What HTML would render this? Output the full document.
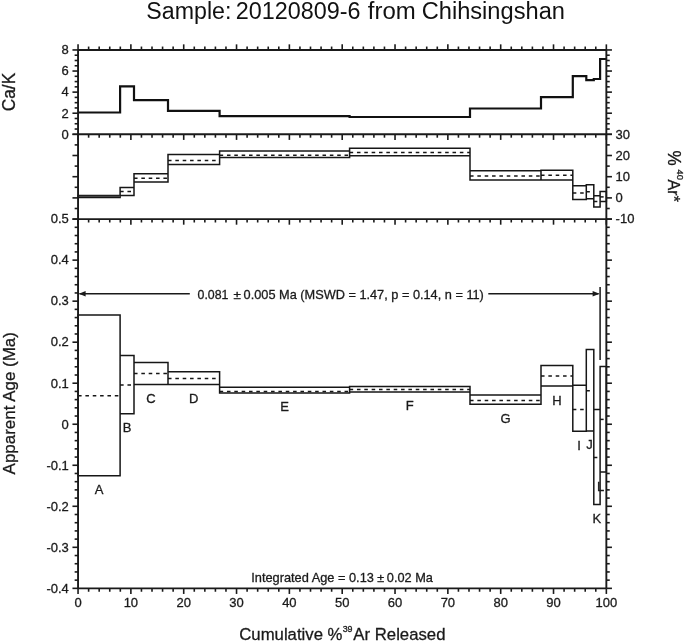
<!DOCTYPE html>
<html><head><meta charset="utf-8"><title>Age spectrum</title>
<style>
html,body{margin:0;padding:0;background:#fff;}
svg{display:block;}
</style></head>
<body>
<svg width="685" height="643" viewBox="0 0 685 643" font-family="Liberation Sans, Arial, Helvetica, sans-serif">
<style>text{stroke:#1a1a1a;stroke-width:0.3px;} .title text{stroke:none;}</style>
<rect width="685" height="643" fill="#fff"/>
<path d="M78.05,112.50 L120.10,112.50 L120.10,86.40 L134.00,86.40 L134.00,100.10 L168.00,100.10 L168.00,110.90 L219.60,110.90 L219.60,116.10 L349.60,116.10 L349.60,117.00 L470.00,117.00 L470.00,108.50 L541.00,108.50 L541.00,97.10 L572.80,97.10 L572.80,76.10 L586.30,76.10 L586.30,80.20 L593.80,80.20 L593.80,79.00 L600.10,79.00 L600.10,59.00 L606.35,59.00" fill="none" stroke="#111" stroke-width="2.2" stroke-linejoin="miter"/>
<path d="M78.05,195.40 H120.10 M78.05,197.50 H120.10 M120.10,187.40 H134.00 M120.10,195.40 H134.00 M134.00,173.70 H168.00 M134.00,182.10 H168.00 M168.00,154.60 H219.60 M168.00,164.50 H219.60 M219.60,151.10 H349.60 M219.60,157.50 H349.60 M349.60,148.20 H470.00 M349.60,155.80 H470.00 M470.00,170.80 H541.00 M470.00,179.90 H541.00 M541.00,170.20 H572.80 M541.00,179.90 H572.80 M572.80,185.80 H586.30 M572.80,199.60 H586.30 M586.30,184.80 H593.80 M586.30,198.80 H593.80 M593.80,195.70 H600.10 M593.80,207.10 H600.10 M600.10,191.40 H606.35 M600.10,201.50 H606.35 M78.05,195.40 V197.50 M120.10,187.40 V197.50 M134.00,173.70 V195.40 M168.00,154.60 V182.10 M219.60,151.10 V164.50 M349.60,148.20 V157.50 M470.00,148.20 V179.90 M541.00,170.20 V179.90 M572.80,170.20 V199.60 M586.30,184.80 V199.60 M593.80,184.80 V207.10 M600.10,191.40 V207.10 M606.35,191.40 V201.50" fill="none" stroke="#161616" stroke-width="1.5" stroke-linecap="square"/>
<line x1="78.05" y1="196.40" x2="120.10" y2="196.40" stroke="#444" stroke-width="1.2"/>
<line x1="120.10" y1="191.60" x2="134.00" y2="191.60" stroke="#161616" stroke-width="1.5" stroke-dasharray="3.55 3.8"/>
<line x1="134.00" y1="178.20" x2="168.00" y2="178.20" stroke="#161616" stroke-width="1.5" stroke-dasharray="3.55 3.8"/>
<line x1="168.00" y1="160.40" x2="219.60" y2="160.40" stroke="#161616" stroke-width="1.5" stroke-dasharray="3.55 3.8"/>
<line x1="219.60" y1="155.30" x2="349.60" y2="155.30" stroke="#161616" stroke-width="1.5" stroke-dasharray="3.55 3.8"/>
<line x1="349.60" y1="152.40" x2="470.00" y2="152.40" stroke="#161616" stroke-width="1.5" stroke-dasharray="3.55 3.8"/>
<line x1="470.00" y1="176.00" x2="541.00" y2="176.00" stroke="#161616" stroke-width="1.5" stroke-dasharray="3.55 3.8"/>
<line x1="541.00" y1="175.20" x2="572.80" y2="175.20" stroke="#161616" stroke-width="1.5" stroke-dasharray="3.55 3.8"/>
<line x1="572.80" y1="193.00" x2="586.30" y2="193.00" stroke="#161616" stroke-width="1.5" stroke-dasharray="3.55 3.8"/>
<line x1="586.30" y1="191.80" x2="593.80" y2="191.80" stroke="#161616" stroke-width="1.5" stroke-dasharray="3.55 3.8"/>
<line x1="593.80" y1="201.50" x2="600.10" y2="201.50" stroke="#161616" stroke-width="1.5" stroke-dasharray="3.55 3.8"/>
<line x1="600.10" y1="196.90" x2="606.35" y2="196.90" stroke="#161616" stroke-width="1.5" stroke-dasharray="3.55 3.8"/>
<path d="M78.05,315.00 H120.10 M78.05,475.70 H120.10 M120.10,355.60 H134.00 M120.10,413.70 H134.00 M134.00,362.40 H168.00 M134.00,384.40 H168.00 M168.00,371.70 H219.60 M168.00,384.50 H219.60 M219.60,387.20 H349.60 M219.60,392.90 H349.60 M349.60,386.50 H470.00 M349.60,391.90 H470.00 M470.00,395.00 H541.00 M470.00,404.20 H541.00 M541.00,365.50 H572.80 M541.00,386.00 H572.80 M572.80,385.20 H586.30 M572.80,431.30 H586.30 M586.30,349.40 H593.80 M586.30,430.90 H593.80 M593.80,409.60 H600.10 M593.80,504.40 H600.10 M600.10,366.40 H606.35 M600.10,472.10 H606.35 M78.05,315.00 V475.70 M120.10,315.00 V475.70 M134.00,355.60 V413.70 M168.00,362.40 V384.50 M219.60,371.70 V392.90 M349.60,386.50 V392.90 M470.00,386.50 V404.20 M541.00,365.50 V404.20 M572.80,365.50 V431.30 M586.30,349.40 V431.30 M593.80,349.40 V504.40 M600.10,366.40 V504.40 M606.35,366.40 V472.10" fill="none" stroke="#161616" stroke-width="1.5" stroke-linecap="square"/>
<line x1="78.05" y1="395.70" x2="120.10" y2="395.70" stroke="#161616" stroke-width="1.5" stroke-dasharray="3.55 3.8"/>
<line x1="120.10" y1="384.90" x2="134.00" y2="384.90" stroke="#161616" stroke-width="1.5" stroke-dasharray="3.55 3.8"/>
<line x1="134.00" y1="373.50" x2="168.00" y2="373.50" stroke="#161616" stroke-width="1.5" stroke-dasharray="3.55 3.8"/>
<line x1="168.00" y1="378.50" x2="219.60" y2="378.50" stroke="#161616" stroke-width="1.5" stroke-dasharray="3.55 3.8"/>
<line x1="219.60" y1="391.60" x2="349.60" y2="391.60" stroke="#161616" stroke-width="1.5" stroke-dasharray="3.55 3.8"/>
<line x1="349.60" y1="389.40" x2="470.00" y2="389.40" stroke="#161616" stroke-width="1.5" stroke-dasharray="3.55 3.8"/>
<line x1="470.00" y1="400.40" x2="541.00" y2="400.40" stroke="#161616" stroke-width="1.5" stroke-dasharray="3.55 3.8"/>
<line x1="541.00" y1="375.90" x2="572.80" y2="375.90" stroke="#161616" stroke-width="1.5" stroke-dasharray="3.55 3.8"/>
<line x1="572.80" y1="409.40" x2="586.30" y2="409.40" stroke="#161616" stroke-width="1.5" stroke-dasharray="3.55 3.8"/>
<line x1="586.30" y1="390.70" x2="593.80" y2="390.70" stroke="#161616" stroke-width="1.5" stroke-dasharray="3.55 3.8"/>
<line x1="593.80" y1="457.50" x2="600.10" y2="457.50" stroke="#161616" stroke-width="1.5" stroke-dasharray="3.55 3.8"/>
<line x1="600.10" y1="419.40" x2="606.35" y2="419.40" stroke="#161616" stroke-width="1.5" stroke-dasharray="3.55 3.8"/>
<line x1="600.10" y1="287.10" x2="600.10" y2="359.90" stroke="#161616" stroke-width="1.5" />
<line x1="79.50" y1="293.80" x2="189.80" y2="293.80" stroke="#1a1a1a" stroke-width="1.4" />
<line x1="488.30" y1="293.80" x2="598.50" y2="293.80" stroke="#1a1a1a" stroke-width="1.4" />
<path d="M78.9,293.8 L85.6,291.0 L85.6,296.6 Z" fill="#1a1a1a"/>
<path d="M599.6,293.8 L592.6,291.0 L592.6,296.6 Z" fill="#1a1a1a"/>
<line x1="78.05" y1="49.95" x2="78.05" y2="44.35" stroke="#1a1a1a" stroke-width="1.6" />
<line x1="78.05" y1="134.30" x2="78.05" y2="139.90" stroke="#1a1a1a" stroke-width="1.6" />
<line x1="78.05" y1="219.10" x2="78.05" y2="224.70" stroke="#1a1a1a" stroke-width="1.6" />
<line x1="78.05" y1="588.35" x2="78.05" y2="593.95" stroke="#1a1a1a" stroke-width="1.6" />
<line x1="88.62" y1="49.95" x2="88.62" y2="46.55" stroke="#1a1a1a" stroke-width="1.6" />
<line x1="88.62" y1="134.30" x2="88.62" y2="137.70" stroke="#1a1a1a" stroke-width="1.6" />
<line x1="88.62" y1="219.10" x2="88.62" y2="222.50" stroke="#1a1a1a" stroke-width="1.6" />
<line x1="88.62" y1="588.35" x2="88.62" y2="591.75" stroke="#1a1a1a" stroke-width="1.6" />
<line x1="99.18" y1="49.95" x2="99.18" y2="46.55" stroke="#1a1a1a" stroke-width="1.6" />
<line x1="99.18" y1="134.30" x2="99.18" y2="137.70" stroke="#1a1a1a" stroke-width="1.6" />
<line x1="99.18" y1="219.10" x2="99.18" y2="222.50" stroke="#1a1a1a" stroke-width="1.6" />
<line x1="99.18" y1="588.35" x2="99.18" y2="591.75" stroke="#1a1a1a" stroke-width="1.6" />
<line x1="109.75" y1="49.95" x2="109.75" y2="46.55" stroke="#1a1a1a" stroke-width="1.6" />
<line x1="109.75" y1="134.30" x2="109.75" y2="137.70" stroke="#1a1a1a" stroke-width="1.6" />
<line x1="109.75" y1="219.10" x2="109.75" y2="222.50" stroke="#1a1a1a" stroke-width="1.6" />
<line x1="109.75" y1="588.35" x2="109.75" y2="591.75" stroke="#1a1a1a" stroke-width="1.6" />
<line x1="120.31" y1="49.95" x2="120.31" y2="46.55" stroke="#1a1a1a" stroke-width="1.6" />
<line x1="120.31" y1="134.30" x2="120.31" y2="137.70" stroke="#1a1a1a" stroke-width="1.6" />
<line x1="120.31" y1="219.10" x2="120.31" y2="222.50" stroke="#1a1a1a" stroke-width="1.6" />
<line x1="120.31" y1="588.35" x2="120.31" y2="591.75" stroke="#1a1a1a" stroke-width="1.6" />
<line x1="130.88" y1="49.95" x2="130.88" y2="44.35" stroke="#1a1a1a" stroke-width="1.6" />
<line x1="130.88" y1="134.30" x2="130.88" y2="139.90" stroke="#1a1a1a" stroke-width="1.6" />
<line x1="130.88" y1="219.10" x2="130.88" y2="224.70" stroke="#1a1a1a" stroke-width="1.6" />
<line x1="130.88" y1="588.35" x2="130.88" y2="593.95" stroke="#1a1a1a" stroke-width="1.6" />
<line x1="141.45" y1="49.95" x2="141.45" y2="46.55" stroke="#1a1a1a" stroke-width="1.6" />
<line x1="141.45" y1="134.30" x2="141.45" y2="137.70" stroke="#1a1a1a" stroke-width="1.6" />
<line x1="141.45" y1="219.10" x2="141.45" y2="222.50" stroke="#1a1a1a" stroke-width="1.6" />
<line x1="141.45" y1="588.35" x2="141.45" y2="591.75" stroke="#1a1a1a" stroke-width="1.6" />
<line x1="152.01" y1="49.95" x2="152.01" y2="46.55" stroke="#1a1a1a" stroke-width="1.6" />
<line x1="152.01" y1="134.30" x2="152.01" y2="137.70" stroke="#1a1a1a" stroke-width="1.6" />
<line x1="152.01" y1="219.10" x2="152.01" y2="222.50" stroke="#1a1a1a" stroke-width="1.6" />
<line x1="152.01" y1="588.35" x2="152.01" y2="591.75" stroke="#1a1a1a" stroke-width="1.6" />
<line x1="162.58" y1="49.95" x2="162.58" y2="46.55" stroke="#1a1a1a" stroke-width="1.6" />
<line x1="162.58" y1="134.30" x2="162.58" y2="137.70" stroke="#1a1a1a" stroke-width="1.6" />
<line x1="162.58" y1="219.10" x2="162.58" y2="222.50" stroke="#1a1a1a" stroke-width="1.6" />
<line x1="162.58" y1="588.35" x2="162.58" y2="591.75" stroke="#1a1a1a" stroke-width="1.6" />
<line x1="173.14" y1="49.95" x2="173.14" y2="46.55" stroke="#1a1a1a" stroke-width="1.6" />
<line x1="173.14" y1="134.30" x2="173.14" y2="137.70" stroke="#1a1a1a" stroke-width="1.6" />
<line x1="173.14" y1="219.10" x2="173.14" y2="222.50" stroke="#1a1a1a" stroke-width="1.6" />
<line x1="173.14" y1="588.35" x2="173.14" y2="591.75" stroke="#1a1a1a" stroke-width="1.6" />
<line x1="183.71" y1="49.95" x2="183.71" y2="44.35" stroke="#1a1a1a" stroke-width="1.6" />
<line x1="183.71" y1="134.30" x2="183.71" y2="139.90" stroke="#1a1a1a" stroke-width="1.6" />
<line x1="183.71" y1="219.10" x2="183.71" y2="224.70" stroke="#1a1a1a" stroke-width="1.6" />
<line x1="183.71" y1="588.35" x2="183.71" y2="593.95" stroke="#1a1a1a" stroke-width="1.6" />
<line x1="194.28" y1="49.95" x2="194.28" y2="46.55" stroke="#1a1a1a" stroke-width="1.6" />
<line x1="194.28" y1="134.30" x2="194.28" y2="137.70" stroke="#1a1a1a" stroke-width="1.6" />
<line x1="194.28" y1="219.10" x2="194.28" y2="222.50" stroke="#1a1a1a" stroke-width="1.6" />
<line x1="194.28" y1="588.35" x2="194.28" y2="591.75" stroke="#1a1a1a" stroke-width="1.6" />
<line x1="204.84" y1="49.95" x2="204.84" y2="46.55" stroke="#1a1a1a" stroke-width="1.6" />
<line x1="204.84" y1="134.30" x2="204.84" y2="137.70" stroke="#1a1a1a" stroke-width="1.6" />
<line x1="204.84" y1="219.10" x2="204.84" y2="222.50" stroke="#1a1a1a" stroke-width="1.6" />
<line x1="204.84" y1="588.35" x2="204.84" y2="591.75" stroke="#1a1a1a" stroke-width="1.6" />
<line x1="215.41" y1="49.95" x2="215.41" y2="46.55" stroke="#1a1a1a" stroke-width="1.6" />
<line x1="215.41" y1="134.30" x2="215.41" y2="137.70" stroke="#1a1a1a" stroke-width="1.6" />
<line x1="215.41" y1="219.10" x2="215.41" y2="222.50" stroke="#1a1a1a" stroke-width="1.6" />
<line x1="215.41" y1="588.35" x2="215.41" y2="591.75" stroke="#1a1a1a" stroke-width="1.6" />
<line x1="225.97" y1="49.95" x2="225.97" y2="46.55" stroke="#1a1a1a" stroke-width="1.6" />
<line x1="225.97" y1="134.30" x2="225.97" y2="137.70" stroke="#1a1a1a" stroke-width="1.6" />
<line x1="225.97" y1="219.10" x2="225.97" y2="222.50" stroke="#1a1a1a" stroke-width="1.6" />
<line x1="225.97" y1="588.35" x2="225.97" y2="591.75" stroke="#1a1a1a" stroke-width="1.6" />
<line x1="236.54" y1="49.95" x2="236.54" y2="44.35" stroke="#1a1a1a" stroke-width="1.6" />
<line x1="236.54" y1="134.30" x2="236.54" y2="139.90" stroke="#1a1a1a" stroke-width="1.6" />
<line x1="236.54" y1="219.10" x2="236.54" y2="224.70" stroke="#1a1a1a" stroke-width="1.6" />
<line x1="236.54" y1="588.35" x2="236.54" y2="593.95" stroke="#1a1a1a" stroke-width="1.6" />
<line x1="247.11" y1="49.95" x2="247.11" y2="46.55" stroke="#1a1a1a" stroke-width="1.6" />
<line x1="247.11" y1="134.30" x2="247.11" y2="137.70" stroke="#1a1a1a" stroke-width="1.6" />
<line x1="247.11" y1="219.10" x2="247.11" y2="222.50" stroke="#1a1a1a" stroke-width="1.6" />
<line x1="247.11" y1="588.35" x2="247.11" y2="591.75" stroke="#1a1a1a" stroke-width="1.6" />
<line x1="257.67" y1="49.95" x2="257.67" y2="46.55" stroke="#1a1a1a" stroke-width="1.6" />
<line x1="257.67" y1="134.30" x2="257.67" y2="137.70" stroke="#1a1a1a" stroke-width="1.6" />
<line x1="257.67" y1="219.10" x2="257.67" y2="222.50" stroke="#1a1a1a" stroke-width="1.6" />
<line x1="257.67" y1="588.35" x2="257.67" y2="591.75" stroke="#1a1a1a" stroke-width="1.6" />
<line x1="268.24" y1="49.95" x2="268.24" y2="46.55" stroke="#1a1a1a" stroke-width="1.6" />
<line x1="268.24" y1="134.30" x2="268.24" y2="137.70" stroke="#1a1a1a" stroke-width="1.6" />
<line x1="268.24" y1="219.10" x2="268.24" y2="222.50" stroke="#1a1a1a" stroke-width="1.6" />
<line x1="268.24" y1="588.35" x2="268.24" y2="591.75" stroke="#1a1a1a" stroke-width="1.6" />
<line x1="278.80" y1="49.95" x2="278.80" y2="46.55" stroke="#1a1a1a" stroke-width="1.6" />
<line x1="278.80" y1="134.30" x2="278.80" y2="137.70" stroke="#1a1a1a" stroke-width="1.6" />
<line x1="278.80" y1="219.10" x2="278.80" y2="222.50" stroke="#1a1a1a" stroke-width="1.6" />
<line x1="278.80" y1="588.35" x2="278.80" y2="591.75" stroke="#1a1a1a" stroke-width="1.6" />
<line x1="289.37" y1="49.95" x2="289.37" y2="44.35" stroke="#1a1a1a" stroke-width="1.6" />
<line x1="289.37" y1="134.30" x2="289.37" y2="139.90" stroke="#1a1a1a" stroke-width="1.6" />
<line x1="289.37" y1="219.10" x2="289.37" y2="224.70" stroke="#1a1a1a" stroke-width="1.6" />
<line x1="289.37" y1="588.35" x2="289.37" y2="593.95" stroke="#1a1a1a" stroke-width="1.6" />
<line x1="299.94" y1="49.95" x2="299.94" y2="46.55" stroke="#1a1a1a" stroke-width="1.6" />
<line x1="299.94" y1="134.30" x2="299.94" y2="137.70" stroke="#1a1a1a" stroke-width="1.6" />
<line x1="299.94" y1="219.10" x2="299.94" y2="222.50" stroke="#1a1a1a" stroke-width="1.6" />
<line x1="299.94" y1="588.35" x2="299.94" y2="591.75" stroke="#1a1a1a" stroke-width="1.6" />
<line x1="310.50" y1="49.95" x2="310.50" y2="46.55" stroke="#1a1a1a" stroke-width="1.6" />
<line x1="310.50" y1="134.30" x2="310.50" y2="137.70" stroke="#1a1a1a" stroke-width="1.6" />
<line x1="310.50" y1="219.10" x2="310.50" y2="222.50" stroke="#1a1a1a" stroke-width="1.6" />
<line x1="310.50" y1="588.35" x2="310.50" y2="591.75" stroke="#1a1a1a" stroke-width="1.6" />
<line x1="321.07" y1="49.95" x2="321.07" y2="46.55" stroke="#1a1a1a" stroke-width="1.6" />
<line x1="321.07" y1="134.30" x2="321.07" y2="137.70" stroke="#1a1a1a" stroke-width="1.6" />
<line x1="321.07" y1="219.10" x2="321.07" y2="222.50" stroke="#1a1a1a" stroke-width="1.6" />
<line x1="321.07" y1="588.35" x2="321.07" y2="591.75" stroke="#1a1a1a" stroke-width="1.6" />
<line x1="331.63" y1="49.95" x2="331.63" y2="46.55" stroke="#1a1a1a" stroke-width="1.6" />
<line x1="331.63" y1="134.30" x2="331.63" y2="137.70" stroke="#1a1a1a" stroke-width="1.6" />
<line x1="331.63" y1="219.10" x2="331.63" y2="222.50" stroke="#1a1a1a" stroke-width="1.6" />
<line x1="331.63" y1="588.35" x2="331.63" y2="591.75" stroke="#1a1a1a" stroke-width="1.6" />
<line x1="342.20" y1="49.95" x2="342.20" y2="44.35" stroke="#1a1a1a" stroke-width="1.6" />
<line x1="342.20" y1="134.30" x2="342.20" y2="139.90" stroke="#1a1a1a" stroke-width="1.6" />
<line x1="342.20" y1="219.10" x2="342.20" y2="224.70" stroke="#1a1a1a" stroke-width="1.6" />
<line x1="342.20" y1="588.35" x2="342.20" y2="593.95" stroke="#1a1a1a" stroke-width="1.6" />
<line x1="352.77" y1="49.95" x2="352.77" y2="46.55" stroke="#1a1a1a" stroke-width="1.6" />
<line x1="352.77" y1="134.30" x2="352.77" y2="137.70" stroke="#1a1a1a" stroke-width="1.6" />
<line x1="352.77" y1="219.10" x2="352.77" y2="222.50" stroke="#1a1a1a" stroke-width="1.6" />
<line x1="352.77" y1="588.35" x2="352.77" y2="591.75" stroke="#1a1a1a" stroke-width="1.6" />
<line x1="363.33" y1="49.95" x2="363.33" y2="46.55" stroke="#1a1a1a" stroke-width="1.6" />
<line x1="363.33" y1="134.30" x2="363.33" y2="137.70" stroke="#1a1a1a" stroke-width="1.6" />
<line x1="363.33" y1="219.10" x2="363.33" y2="222.50" stroke="#1a1a1a" stroke-width="1.6" />
<line x1="363.33" y1="588.35" x2="363.33" y2="591.75" stroke="#1a1a1a" stroke-width="1.6" />
<line x1="373.90" y1="49.95" x2="373.90" y2="46.55" stroke="#1a1a1a" stroke-width="1.6" />
<line x1="373.90" y1="134.30" x2="373.90" y2="137.70" stroke="#1a1a1a" stroke-width="1.6" />
<line x1="373.90" y1="219.10" x2="373.90" y2="222.50" stroke="#1a1a1a" stroke-width="1.6" />
<line x1="373.90" y1="588.35" x2="373.90" y2="591.75" stroke="#1a1a1a" stroke-width="1.6" />
<line x1="384.46" y1="49.95" x2="384.46" y2="46.55" stroke="#1a1a1a" stroke-width="1.6" />
<line x1="384.46" y1="134.30" x2="384.46" y2="137.70" stroke="#1a1a1a" stroke-width="1.6" />
<line x1="384.46" y1="219.10" x2="384.46" y2="222.50" stroke="#1a1a1a" stroke-width="1.6" />
<line x1="384.46" y1="588.35" x2="384.46" y2="591.75" stroke="#1a1a1a" stroke-width="1.6" />
<line x1="395.03" y1="49.95" x2="395.03" y2="44.35" stroke="#1a1a1a" stroke-width="1.6" />
<line x1="395.03" y1="134.30" x2="395.03" y2="139.90" stroke="#1a1a1a" stroke-width="1.6" />
<line x1="395.03" y1="219.10" x2="395.03" y2="224.70" stroke="#1a1a1a" stroke-width="1.6" />
<line x1="395.03" y1="588.35" x2="395.03" y2="593.95" stroke="#1a1a1a" stroke-width="1.6" />
<line x1="405.60" y1="49.95" x2="405.60" y2="46.55" stroke="#1a1a1a" stroke-width="1.6" />
<line x1="405.60" y1="134.30" x2="405.60" y2="137.70" stroke="#1a1a1a" stroke-width="1.6" />
<line x1="405.60" y1="219.10" x2="405.60" y2="222.50" stroke="#1a1a1a" stroke-width="1.6" />
<line x1="405.60" y1="588.35" x2="405.60" y2="591.75" stroke="#1a1a1a" stroke-width="1.6" />
<line x1="416.16" y1="49.95" x2="416.16" y2="46.55" stroke="#1a1a1a" stroke-width="1.6" />
<line x1="416.16" y1="134.30" x2="416.16" y2="137.70" stroke="#1a1a1a" stroke-width="1.6" />
<line x1="416.16" y1="219.10" x2="416.16" y2="222.50" stroke="#1a1a1a" stroke-width="1.6" />
<line x1="416.16" y1="588.35" x2="416.16" y2="591.75" stroke="#1a1a1a" stroke-width="1.6" />
<line x1="426.73" y1="49.95" x2="426.73" y2="46.55" stroke="#1a1a1a" stroke-width="1.6" />
<line x1="426.73" y1="134.30" x2="426.73" y2="137.70" stroke="#1a1a1a" stroke-width="1.6" />
<line x1="426.73" y1="219.10" x2="426.73" y2="222.50" stroke="#1a1a1a" stroke-width="1.6" />
<line x1="426.73" y1="588.35" x2="426.73" y2="591.75" stroke="#1a1a1a" stroke-width="1.6" />
<line x1="437.29" y1="49.95" x2="437.29" y2="46.55" stroke="#1a1a1a" stroke-width="1.6" />
<line x1="437.29" y1="134.30" x2="437.29" y2="137.70" stroke="#1a1a1a" stroke-width="1.6" />
<line x1="437.29" y1="219.10" x2="437.29" y2="222.50" stroke="#1a1a1a" stroke-width="1.6" />
<line x1="437.29" y1="588.35" x2="437.29" y2="591.75" stroke="#1a1a1a" stroke-width="1.6" />
<line x1="447.86" y1="49.95" x2="447.86" y2="44.35" stroke="#1a1a1a" stroke-width="1.6" />
<line x1="447.86" y1="134.30" x2="447.86" y2="139.90" stroke="#1a1a1a" stroke-width="1.6" />
<line x1="447.86" y1="219.10" x2="447.86" y2="224.70" stroke="#1a1a1a" stroke-width="1.6" />
<line x1="447.86" y1="588.35" x2="447.86" y2="593.95" stroke="#1a1a1a" stroke-width="1.6" />
<line x1="458.43" y1="49.95" x2="458.43" y2="46.55" stroke="#1a1a1a" stroke-width="1.6" />
<line x1="458.43" y1="134.30" x2="458.43" y2="137.70" stroke="#1a1a1a" stroke-width="1.6" />
<line x1="458.43" y1="219.10" x2="458.43" y2="222.50" stroke="#1a1a1a" stroke-width="1.6" />
<line x1="458.43" y1="588.35" x2="458.43" y2="591.75" stroke="#1a1a1a" stroke-width="1.6" />
<line x1="468.99" y1="49.95" x2="468.99" y2="46.55" stroke="#1a1a1a" stroke-width="1.6" />
<line x1="468.99" y1="134.30" x2="468.99" y2="137.70" stroke="#1a1a1a" stroke-width="1.6" />
<line x1="468.99" y1="219.10" x2="468.99" y2="222.50" stroke="#1a1a1a" stroke-width="1.6" />
<line x1="468.99" y1="588.35" x2="468.99" y2="591.75" stroke="#1a1a1a" stroke-width="1.6" />
<line x1="479.56" y1="49.95" x2="479.56" y2="46.55" stroke="#1a1a1a" stroke-width="1.6" />
<line x1="479.56" y1="134.30" x2="479.56" y2="137.70" stroke="#1a1a1a" stroke-width="1.6" />
<line x1="479.56" y1="219.10" x2="479.56" y2="222.50" stroke="#1a1a1a" stroke-width="1.6" />
<line x1="479.56" y1="588.35" x2="479.56" y2="591.75" stroke="#1a1a1a" stroke-width="1.6" />
<line x1="490.12" y1="49.95" x2="490.12" y2="46.55" stroke="#1a1a1a" stroke-width="1.6" />
<line x1="490.12" y1="134.30" x2="490.12" y2="137.70" stroke="#1a1a1a" stroke-width="1.6" />
<line x1="490.12" y1="219.10" x2="490.12" y2="222.50" stroke="#1a1a1a" stroke-width="1.6" />
<line x1="490.12" y1="588.35" x2="490.12" y2="591.75" stroke="#1a1a1a" stroke-width="1.6" />
<line x1="500.69" y1="49.95" x2="500.69" y2="44.35" stroke="#1a1a1a" stroke-width="1.6" />
<line x1="500.69" y1="134.30" x2="500.69" y2="139.90" stroke="#1a1a1a" stroke-width="1.6" />
<line x1="500.69" y1="219.10" x2="500.69" y2="224.70" stroke="#1a1a1a" stroke-width="1.6" />
<line x1="500.69" y1="588.35" x2="500.69" y2="593.95" stroke="#1a1a1a" stroke-width="1.6" />
<line x1="511.26" y1="49.95" x2="511.26" y2="46.55" stroke="#1a1a1a" stroke-width="1.6" />
<line x1="511.26" y1="134.30" x2="511.26" y2="137.70" stroke="#1a1a1a" stroke-width="1.6" />
<line x1="511.26" y1="219.10" x2="511.26" y2="222.50" stroke="#1a1a1a" stroke-width="1.6" />
<line x1="511.26" y1="588.35" x2="511.26" y2="591.75" stroke="#1a1a1a" stroke-width="1.6" />
<line x1="521.82" y1="49.95" x2="521.82" y2="46.55" stroke="#1a1a1a" stroke-width="1.6" />
<line x1="521.82" y1="134.30" x2="521.82" y2="137.70" stroke="#1a1a1a" stroke-width="1.6" />
<line x1="521.82" y1="219.10" x2="521.82" y2="222.50" stroke="#1a1a1a" stroke-width="1.6" />
<line x1="521.82" y1="588.35" x2="521.82" y2="591.75" stroke="#1a1a1a" stroke-width="1.6" />
<line x1="532.39" y1="49.95" x2="532.39" y2="46.55" stroke="#1a1a1a" stroke-width="1.6" />
<line x1="532.39" y1="134.30" x2="532.39" y2="137.70" stroke="#1a1a1a" stroke-width="1.6" />
<line x1="532.39" y1="219.10" x2="532.39" y2="222.50" stroke="#1a1a1a" stroke-width="1.6" />
<line x1="532.39" y1="588.35" x2="532.39" y2="591.75" stroke="#1a1a1a" stroke-width="1.6" />
<line x1="542.95" y1="49.95" x2="542.95" y2="46.55" stroke="#1a1a1a" stroke-width="1.6" />
<line x1="542.95" y1="134.30" x2="542.95" y2="137.70" stroke="#1a1a1a" stroke-width="1.6" />
<line x1="542.95" y1="219.10" x2="542.95" y2="222.50" stroke="#1a1a1a" stroke-width="1.6" />
<line x1="542.95" y1="588.35" x2="542.95" y2="591.75" stroke="#1a1a1a" stroke-width="1.6" />
<line x1="553.52" y1="49.95" x2="553.52" y2="44.35" stroke="#1a1a1a" stroke-width="1.6" />
<line x1="553.52" y1="134.30" x2="553.52" y2="139.90" stroke="#1a1a1a" stroke-width="1.6" />
<line x1="553.52" y1="219.10" x2="553.52" y2="224.70" stroke="#1a1a1a" stroke-width="1.6" />
<line x1="553.52" y1="588.35" x2="553.52" y2="593.95" stroke="#1a1a1a" stroke-width="1.6" />
<line x1="564.09" y1="49.95" x2="564.09" y2="46.55" stroke="#1a1a1a" stroke-width="1.6" />
<line x1="564.09" y1="134.30" x2="564.09" y2="137.70" stroke="#1a1a1a" stroke-width="1.6" />
<line x1="564.09" y1="219.10" x2="564.09" y2="222.50" stroke="#1a1a1a" stroke-width="1.6" />
<line x1="564.09" y1="588.35" x2="564.09" y2="591.75" stroke="#1a1a1a" stroke-width="1.6" />
<line x1="574.65" y1="49.95" x2="574.65" y2="46.55" stroke="#1a1a1a" stroke-width="1.6" />
<line x1="574.65" y1="134.30" x2="574.65" y2="137.70" stroke="#1a1a1a" stroke-width="1.6" />
<line x1="574.65" y1="219.10" x2="574.65" y2="222.50" stroke="#1a1a1a" stroke-width="1.6" />
<line x1="574.65" y1="588.35" x2="574.65" y2="591.75" stroke="#1a1a1a" stroke-width="1.6" />
<line x1="585.22" y1="49.95" x2="585.22" y2="46.55" stroke="#1a1a1a" stroke-width="1.6" />
<line x1="585.22" y1="134.30" x2="585.22" y2="137.70" stroke="#1a1a1a" stroke-width="1.6" />
<line x1="585.22" y1="219.10" x2="585.22" y2="222.50" stroke="#1a1a1a" stroke-width="1.6" />
<line x1="585.22" y1="588.35" x2="585.22" y2="591.75" stroke="#1a1a1a" stroke-width="1.6" />
<line x1="595.78" y1="49.95" x2="595.78" y2="46.55" stroke="#1a1a1a" stroke-width="1.6" />
<line x1="595.78" y1="134.30" x2="595.78" y2="137.70" stroke="#1a1a1a" stroke-width="1.6" />
<line x1="595.78" y1="219.10" x2="595.78" y2="222.50" stroke="#1a1a1a" stroke-width="1.6" />
<line x1="595.78" y1="588.35" x2="595.78" y2="591.75" stroke="#1a1a1a" stroke-width="1.6" />
<line x1="606.35" y1="49.95" x2="606.35" y2="44.35" stroke="#1a1a1a" stroke-width="1.6" />
<line x1="606.35" y1="134.30" x2="606.35" y2="139.90" stroke="#1a1a1a" stroke-width="1.6" />
<line x1="606.35" y1="219.10" x2="606.35" y2="224.70" stroke="#1a1a1a" stroke-width="1.6" />
<line x1="606.35" y1="588.35" x2="606.35" y2="593.95" stroke="#1a1a1a" stroke-width="1.6" />
<line x1="78.05" y1="134.30" x2="72.45" y2="134.30" stroke="#1a1a1a" stroke-width="1.6" />
<line x1="606.35" y1="134.30" x2="611.95" y2="134.30" stroke="#1a1a1a" stroke-width="1.6" />
<line x1="78.05" y1="129.03" x2="74.65" y2="129.03" stroke="#1a1a1a" stroke-width="1.6" />
<line x1="606.35" y1="129.03" x2="609.75" y2="129.03" stroke="#1a1a1a" stroke-width="1.6" />
<line x1="78.05" y1="123.76" x2="74.65" y2="123.76" stroke="#1a1a1a" stroke-width="1.6" />
<line x1="606.35" y1="123.76" x2="609.75" y2="123.76" stroke="#1a1a1a" stroke-width="1.6" />
<line x1="78.05" y1="118.48" x2="74.65" y2="118.48" stroke="#1a1a1a" stroke-width="1.6" />
<line x1="606.35" y1="118.48" x2="609.75" y2="118.48" stroke="#1a1a1a" stroke-width="1.6" />
<line x1="78.05" y1="113.21" x2="72.45" y2="113.21" stroke="#1a1a1a" stroke-width="1.6" />
<line x1="606.35" y1="113.21" x2="611.95" y2="113.21" stroke="#1a1a1a" stroke-width="1.6" />
<line x1="78.05" y1="107.94" x2="74.65" y2="107.94" stroke="#1a1a1a" stroke-width="1.6" />
<line x1="606.35" y1="107.94" x2="609.75" y2="107.94" stroke="#1a1a1a" stroke-width="1.6" />
<line x1="78.05" y1="102.67" x2="74.65" y2="102.67" stroke="#1a1a1a" stroke-width="1.6" />
<line x1="606.35" y1="102.67" x2="609.75" y2="102.67" stroke="#1a1a1a" stroke-width="1.6" />
<line x1="78.05" y1="97.40" x2="74.65" y2="97.40" stroke="#1a1a1a" stroke-width="1.6" />
<line x1="606.35" y1="97.40" x2="609.75" y2="97.40" stroke="#1a1a1a" stroke-width="1.6" />
<line x1="78.05" y1="92.12" x2="72.45" y2="92.12" stroke="#1a1a1a" stroke-width="1.6" />
<line x1="606.35" y1="92.12" x2="611.95" y2="92.12" stroke="#1a1a1a" stroke-width="1.6" />
<line x1="78.05" y1="86.85" x2="74.65" y2="86.85" stroke="#1a1a1a" stroke-width="1.6" />
<line x1="606.35" y1="86.85" x2="609.75" y2="86.85" stroke="#1a1a1a" stroke-width="1.6" />
<line x1="78.05" y1="81.58" x2="74.65" y2="81.58" stroke="#1a1a1a" stroke-width="1.6" />
<line x1="606.35" y1="81.58" x2="609.75" y2="81.58" stroke="#1a1a1a" stroke-width="1.6" />
<line x1="78.05" y1="76.31" x2="74.65" y2="76.31" stroke="#1a1a1a" stroke-width="1.6" />
<line x1="606.35" y1="76.31" x2="609.75" y2="76.31" stroke="#1a1a1a" stroke-width="1.6" />
<line x1="78.05" y1="71.04" x2="72.45" y2="71.04" stroke="#1a1a1a" stroke-width="1.6" />
<line x1="606.35" y1="71.04" x2="611.95" y2="71.04" stroke="#1a1a1a" stroke-width="1.6" />
<line x1="78.05" y1="65.77" x2="74.65" y2="65.77" stroke="#1a1a1a" stroke-width="1.6" />
<line x1="606.35" y1="65.77" x2="609.75" y2="65.77" stroke="#1a1a1a" stroke-width="1.6" />
<line x1="78.05" y1="60.49" x2="74.65" y2="60.49" stroke="#1a1a1a" stroke-width="1.6" />
<line x1="606.35" y1="60.49" x2="609.75" y2="60.49" stroke="#1a1a1a" stroke-width="1.6" />
<line x1="78.05" y1="55.22" x2="74.65" y2="55.22" stroke="#1a1a1a" stroke-width="1.6" />
<line x1="606.35" y1="55.22" x2="609.75" y2="55.22" stroke="#1a1a1a" stroke-width="1.6" />
<line x1="78.05" y1="49.95" x2="72.45" y2="49.95" stroke="#1a1a1a" stroke-width="1.6" />
<line x1="606.35" y1="49.95" x2="611.95" y2="49.95" stroke="#1a1a1a" stroke-width="1.6" />
<line x1="78.05" y1="219.10" x2="72.45" y2="219.10" stroke="#1a1a1a" stroke-width="1.6" />
<line x1="606.35" y1="219.10" x2="611.95" y2="219.10" stroke="#1a1a1a" stroke-width="1.6" />
<line x1="78.05" y1="208.50" x2="74.65" y2="208.50" stroke="#1a1a1a" stroke-width="1.6" />
<line x1="606.35" y1="208.50" x2="609.75" y2="208.50" stroke="#1a1a1a" stroke-width="1.6" />
<line x1="78.05" y1="197.90" x2="72.45" y2="197.90" stroke="#1a1a1a" stroke-width="1.6" />
<line x1="606.35" y1="197.90" x2="611.95" y2="197.90" stroke="#1a1a1a" stroke-width="1.6" />
<line x1="78.05" y1="187.30" x2="74.65" y2="187.30" stroke="#1a1a1a" stroke-width="1.6" />
<line x1="606.35" y1="187.30" x2="609.75" y2="187.30" stroke="#1a1a1a" stroke-width="1.6" />
<line x1="78.05" y1="176.70" x2="72.45" y2="176.70" stroke="#1a1a1a" stroke-width="1.6" />
<line x1="606.35" y1="176.70" x2="611.95" y2="176.70" stroke="#1a1a1a" stroke-width="1.6" />
<line x1="78.05" y1="166.10" x2="74.65" y2="166.10" stroke="#1a1a1a" stroke-width="1.6" />
<line x1="606.35" y1="166.10" x2="609.75" y2="166.10" stroke="#1a1a1a" stroke-width="1.6" />
<line x1="78.05" y1="155.50" x2="72.45" y2="155.50" stroke="#1a1a1a" stroke-width="1.6" />
<line x1="606.35" y1="155.50" x2="611.95" y2="155.50" stroke="#1a1a1a" stroke-width="1.6" />
<line x1="78.05" y1="144.90" x2="74.65" y2="144.90" stroke="#1a1a1a" stroke-width="1.6" />
<line x1="606.35" y1="144.90" x2="609.75" y2="144.90" stroke="#1a1a1a" stroke-width="1.6" />
<line x1="78.05" y1="134.30" x2="72.45" y2="134.30" stroke="#1a1a1a" stroke-width="1.6" />
<line x1="606.35" y1="134.30" x2="611.95" y2="134.30" stroke="#1a1a1a" stroke-width="1.6" />
<line x1="78.05" y1="588.35" x2="72.45" y2="588.35" stroke="#1a1a1a" stroke-width="1.6" />
<line x1="606.35" y1="588.35" x2="611.95" y2="588.35" stroke="#1a1a1a" stroke-width="1.6" />
<line x1="78.05" y1="580.14" x2="74.65" y2="580.14" stroke="#1a1a1a" stroke-width="1.6" />
<line x1="606.35" y1="580.14" x2="609.75" y2="580.14" stroke="#1a1a1a" stroke-width="1.6" />
<line x1="78.05" y1="571.94" x2="74.65" y2="571.94" stroke="#1a1a1a" stroke-width="1.6" />
<line x1="606.35" y1="571.94" x2="609.75" y2="571.94" stroke="#1a1a1a" stroke-width="1.6" />
<line x1="78.05" y1="563.73" x2="74.65" y2="563.73" stroke="#1a1a1a" stroke-width="1.6" />
<line x1="606.35" y1="563.73" x2="609.75" y2="563.73" stroke="#1a1a1a" stroke-width="1.6" />
<line x1="78.05" y1="555.53" x2="74.65" y2="555.53" stroke="#1a1a1a" stroke-width="1.6" />
<line x1="606.35" y1="555.53" x2="609.75" y2="555.53" stroke="#1a1a1a" stroke-width="1.6" />
<line x1="78.05" y1="547.32" x2="72.45" y2="547.32" stroke="#1a1a1a" stroke-width="1.6" />
<line x1="606.35" y1="547.32" x2="611.95" y2="547.32" stroke="#1a1a1a" stroke-width="1.6" />
<line x1="78.05" y1="539.12" x2="74.65" y2="539.12" stroke="#1a1a1a" stroke-width="1.6" />
<line x1="606.35" y1="539.12" x2="609.75" y2="539.12" stroke="#1a1a1a" stroke-width="1.6" />
<line x1="78.05" y1="530.91" x2="74.65" y2="530.91" stroke="#1a1a1a" stroke-width="1.6" />
<line x1="606.35" y1="530.91" x2="609.75" y2="530.91" stroke="#1a1a1a" stroke-width="1.6" />
<line x1="78.05" y1="522.71" x2="74.65" y2="522.71" stroke="#1a1a1a" stroke-width="1.6" />
<line x1="606.35" y1="522.71" x2="609.75" y2="522.71" stroke="#1a1a1a" stroke-width="1.6" />
<line x1="78.05" y1="514.50" x2="74.65" y2="514.50" stroke="#1a1a1a" stroke-width="1.6" />
<line x1="606.35" y1="514.50" x2="609.75" y2="514.50" stroke="#1a1a1a" stroke-width="1.6" />
<line x1="78.05" y1="506.29" x2="72.45" y2="506.29" stroke="#1a1a1a" stroke-width="1.6" />
<line x1="606.35" y1="506.29" x2="611.95" y2="506.29" stroke="#1a1a1a" stroke-width="1.6" />
<line x1="78.05" y1="498.09" x2="74.65" y2="498.09" stroke="#1a1a1a" stroke-width="1.6" />
<line x1="606.35" y1="498.09" x2="609.75" y2="498.09" stroke="#1a1a1a" stroke-width="1.6" />
<line x1="78.05" y1="489.88" x2="74.65" y2="489.88" stroke="#1a1a1a" stroke-width="1.6" />
<line x1="606.35" y1="489.88" x2="609.75" y2="489.88" stroke="#1a1a1a" stroke-width="1.6" />
<line x1="78.05" y1="481.68" x2="74.65" y2="481.68" stroke="#1a1a1a" stroke-width="1.6" />
<line x1="606.35" y1="481.68" x2="609.75" y2="481.68" stroke="#1a1a1a" stroke-width="1.6" />
<line x1="78.05" y1="473.47" x2="74.65" y2="473.47" stroke="#1a1a1a" stroke-width="1.6" />
<line x1="606.35" y1="473.47" x2="609.75" y2="473.47" stroke="#1a1a1a" stroke-width="1.6" />
<line x1="78.05" y1="465.27" x2="72.45" y2="465.27" stroke="#1a1a1a" stroke-width="1.6" />
<line x1="606.35" y1="465.27" x2="611.95" y2="465.27" stroke="#1a1a1a" stroke-width="1.6" />
<line x1="78.05" y1="457.06" x2="74.65" y2="457.06" stroke="#1a1a1a" stroke-width="1.6" />
<line x1="606.35" y1="457.06" x2="609.75" y2="457.06" stroke="#1a1a1a" stroke-width="1.6" />
<line x1="78.05" y1="448.86" x2="74.65" y2="448.86" stroke="#1a1a1a" stroke-width="1.6" />
<line x1="606.35" y1="448.86" x2="609.75" y2="448.86" stroke="#1a1a1a" stroke-width="1.6" />
<line x1="78.05" y1="440.65" x2="74.65" y2="440.65" stroke="#1a1a1a" stroke-width="1.6" />
<line x1="606.35" y1="440.65" x2="609.75" y2="440.65" stroke="#1a1a1a" stroke-width="1.6" />
<line x1="78.05" y1="432.44" x2="74.65" y2="432.44" stroke="#1a1a1a" stroke-width="1.6" />
<line x1="606.35" y1="432.44" x2="609.75" y2="432.44" stroke="#1a1a1a" stroke-width="1.6" />
<line x1="78.05" y1="424.24" x2="72.45" y2="424.24" stroke="#1a1a1a" stroke-width="1.6" />
<line x1="606.35" y1="424.24" x2="611.95" y2="424.24" stroke="#1a1a1a" stroke-width="1.6" />
<line x1="78.05" y1="416.03" x2="74.65" y2="416.03" stroke="#1a1a1a" stroke-width="1.6" />
<line x1="606.35" y1="416.03" x2="609.75" y2="416.03" stroke="#1a1a1a" stroke-width="1.6" />
<line x1="78.05" y1="407.83" x2="74.65" y2="407.83" stroke="#1a1a1a" stroke-width="1.6" />
<line x1="606.35" y1="407.83" x2="609.75" y2="407.83" stroke="#1a1a1a" stroke-width="1.6" />
<line x1="78.05" y1="399.62" x2="74.65" y2="399.62" stroke="#1a1a1a" stroke-width="1.6" />
<line x1="606.35" y1="399.62" x2="609.75" y2="399.62" stroke="#1a1a1a" stroke-width="1.6" />
<line x1="78.05" y1="391.42" x2="74.65" y2="391.42" stroke="#1a1a1a" stroke-width="1.6" />
<line x1="606.35" y1="391.42" x2="609.75" y2="391.42" stroke="#1a1a1a" stroke-width="1.6" />
<line x1="78.05" y1="383.21" x2="72.45" y2="383.21" stroke="#1a1a1a" stroke-width="1.6" />
<line x1="606.35" y1="383.21" x2="611.95" y2="383.21" stroke="#1a1a1a" stroke-width="1.6" />
<line x1="78.05" y1="375.01" x2="74.65" y2="375.01" stroke="#1a1a1a" stroke-width="1.6" />
<line x1="606.35" y1="375.01" x2="609.75" y2="375.01" stroke="#1a1a1a" stroke-width="1.6" />
<line x1="78.05" y1="366.80" x2="74.65" y2="366.80" stroke="#1a1a1a" stroke-width="1.6" />
<line x1="606.35" y1="366.80" x2="609.75" y2="366.80" stroke="#1a1a1a" stroke-width="1.6" />
<line x1="78.05" y1="358.59" x2="74.65" y2="358.59" stroke="#1a1a1a" stroke-width="1.6" />
<line x1="606.35" y1="358.59" x2="609.75" y2="358.59" stroke="#1a1a1a" stroke-width="1.6" />
<line x1="78.05" y1="350.39" x2="74.65" y2="350.39" stroke="#1a1a1a" stroke-width="1.6" />
<line x1="606.35" y1="350.39" x2="609.75" y2="350.39" stroke="#1a1a1a" stroke-width="1.6" />
<line x1="78.05" y1="342.18" x2="72.45" y2="342.18" stroke="#1a1a1a" stroke-width="1.6" />
<line x1="606.35" y1="342.18" x2="611.95" y2="342.18" stroke="#1a1a1a" stroke-width="1.6" />
<line x1="78.05" y1="333.98" x2="74.65" y2="333.98" stroke="#1a1a1a" stroke-width="1.6" />
<line x1="606.35" y1="333.98" x2="609.75" y2="333.98" stroke="#1a1a1a" stroke-width="1.6" />
<line x1="78.05" y1="325.77" x2="74.65" y2="325.77" stroke="#1a1a1a" stroke-width="1.6" />
<line x1="606.35" y1="325.77" x2="609.75" y2="325.77" stroke="#1a1a1a" stroke-width="1.6" />
<line x1="78.05" y1="317.57" x2="74.65" y2="317.57" stroke="#1a1a1a" stroke-width="1.6" />
<line x1="606.35" y1="317.57" x2="609.75" y2="317.57" stroke="#1a1a1a" stroke-width="1.6" />
<line x1="78.05" y1="309.36" x2="74.65" y2="309.36" stroke="#1a1a1a" stroke-width="1.6" />
<line x1="606.35" y1="309.36" x2="609.75" y2="309.36" stroke="#1a1a1a" stroke-width="1.6" />
<line x1="78.05" y1="301.16" x2="72.45" y2="301.16" stroke="#1a1a1a" stroke-width="1.6" />
<line x1="606.35" y1="301.16" x2="611.95" y2="301.16" stroke="#1a1a1a" stroke-width="1.6" />
<line x1="78.05" y1="292.95" x2="74.65" y2="292.95" stroke="#1a1a1a" stroke-width="1.6" />
<line x1="606.35" y1="292.95" x2="609.75" y2="292.95" stroke="#1a1a1a" stroke-width="1.6" />
<line x1="78.05" y1="284.74" x2="74.65" y2="284.74" stroke="#1a1a1a" stroke-width="1.6" />
<line x1="606.35" y1="284.74" x2="609.75" y2="284.74" stroke="#1a1a1a" stroke-width="1.6" />
<line x1="78.05" y1="276.54" x2="74.65" y2="276.54" stroke="#1a1a1a" stroke-width="1.6" />
<line x1="606.35" y1="276.54" x2="609.75" y2="276.54" stroke="#1a1a1a" stroke-width="1.6" />
<line x1="78.05" y1="268.33" x2="74.65" y2="268.33" stroke="#1a1a1a" stroke-width="1.6" />
<line x1="606.35" y1="268.33" x2="609.75" y2="268.33" stroke="#1a1a1a" stroke-width="1.6" />
<line x1="78.05" y1="260.13" x2="72.45" y2="260.13" stroke="#1a1a1a" stroke-width="1.6" />
<line x1="606.35" y1="260.13" x2="611.95" y2="260.13" stroke="#1a1a1a" stroke-width="1.6" />
<line x1="78.05" y1="251.92" x2="74.65" y2="251.92" stroke="#1a1a1a" stroke-width="1.6" />
<line x1="606.35" y1="251.92" x2="609.75" y2="251.92" stroke="#1a1a1a" stroke-width="1.6" />
<line x1="78.05" y1="243.72" x2="74.65" y2="243.72" stroke="#1a1a1a" stroke-width="1.6" />
<line x1="606.35" y1="243.72" x2="609.75" y2="243.72" stroke="#1a1a1a" stroke-width="1.6" />
<line x1="78.05" y1="235.51" x2="74.65" y2="235.51" stroke="#1a1a1a" stroke-width="1.6" />
<line x1="606.35" y1="235.51" x2="609.75" y2="235.51" stroke="#1a1a1a" stroke-width="1.6" />
<line x1="78.05" y1="227.31" x2="74.65" y2="227.31" stroke="#1a1a1a" stroke-width="1.6" />
<line x1="606.35" y1="227.31" x2="609.75" y2="227.31" stroke="#1a1a1a" stroke-width="1.6" />
<line x1="78.05" y1="219.10" x2="72.45" y2="219.10" stroke="#1a1a1a" stroke-width="1.6" />
<line x1="606.35" y1="219.10" x2="611.95" y2="219.10" stroke="#1a1a1a" stroke-width="1.6" />
<line x1="78.05" y1="49.95" x2="78.05" y2="588.35" stroke="#1a1a1a" stroke-width="1.9" />
<line x1="606.35" y1="49.95" x2="606.35" y2="588.35" stroke="#1a1a1a" stroke-width="1.9" />
<line x1="78.05" y1="49.95" x2="606.35" y2="49.95" stroke="#1a1a1a" stroke-width="1.9" />
<line x1="78.05" y1="134.30" x2="606.35" y2="134.30" stroke="#1a1a1a" stroke-width="1.9" />
<line x1="78.05" y1="219.10" x2="606.35" y2="219.10" stroke="#1a1a1a" stroke-width="1.9" />
<line x1="78.05" y1="588.35" x2="606.35" y2="588.35" stroke="#1a1a1a" stroke-width="1.9" />
<text x="68.80" y="138.60" font-size="13" text-anchor="end" fill="#1a1a1a" >0</text>
<text x="68.80" y="117.51" font-size="13" text-anchor="end" fill="#1a1a1a" >2</text>
<text x="68.80" y="96.42" font-size="13" text-anchor="end" fill="#1a1a1a" >4</text>
<text x="68.80" y="75.34" font-size="13" text-anchor="end" fill="#1a1a1a" >6</text>
<text x="68.80" y="54.25" font-size="13" text-anchor="end" fill="#1a1a1a" >8</text>
<text x="68.80" y="223.40" font-size="13" text-anchor="end" fill="#1a1a1a" >0.5</text>
<text x="68.80" y="264.43" font-size="13" text-anchor="end" fill="#1a1a1a" >0.4</text>
<text x="68.80" y="305.46" font-size="13" text-anchor="end" fill="#1a1a1a" >0.3</text>
<text x="68.80" y="346.48" font-size="13" text-anchor="end" fill="#1a1a1a" >0.2</text>
<text x="68.80" y="387.51" font-size="13" text-anchor="end" fill="#1a1a1a" >0.1</text>
<text x="68.80" y="428.54" font-size="13" text-anchor="end" fill="#1a1a1a" >0</text>
<text x="68.80" y="469.57" font-size="13" text-anchor="end" fill="#1a1a1a" >-0.1</text>
<text x="68.80" y="510.59" font-size="13" text-anchor="end" fill="#1a1a1a" >-0.2</text>
<text x="68.80" y="551.62" font-size="13" text-anchor="end" fill="#1a1a1a" >-0.3</text>
<text x="68.80" y="592.65" font-size="13" text-anchor="end" fill="#1a1a1a" >-0.4</text>
<text x="615.60" y="138.60" font-size="13" text-anchor="start" fill="#1a1a1a" >30</text>
<text x="615.60" y="159.80" font-size="13" text-anchor="start" fill="#1a1a1a" >20</text>
<text x="615.60" y="181.00" font-size="13" text-anchor="start" fill="#1a1a1a" >10</text>
<text x="615.60" y="202.20" font-size="13" text-anchor="start" fill="#1a1a1a" >0</text>
<text x="615.60" y="223.40" font-size="13" text-anchor="start" fill="#1a1a1a" >-10</text>
<text x="78.05" y="606.90" font-size="13" text-anchor="middle" fill="#1a1a1a" >0</text>
<text x="130.88" y="606.90" font-size="13" text-anchor="middle" fill="#1a1a1a" >10</text>
<text x="183.71" y="606.90" font-size="13" text-anchor="middle" fill="#1a1a1a" >20</text>
<text x="236.54" y="606.90" font-size="13" text-anchor="middle" fill="#1a1a1a" >30</text>
<text x="289.37" y="606.90" font-size="13" text-anchor="middle" fill="#1a1a1a" >40</text>
<text x="342.20" y="606.90" font-size="13" text-anchor="middle" fill="#1a1a1a" >50</text>
<text x="395.03" y="606.90" font-size="13" text-anchor="middle" fill="#1a1a1a" >60</text>
<text x="447.86" y="606.90" font-size="13" text-anchor="middle" fill="#1a1a1a" >70</text>
<text x="500.69" y="606.90" font-size="13" text-anchor="middle" fill="#1a1a1a" >80</text>
<text x="553.52" y="606.90" font-size="13" text-anchor="middle" fill="#1a1a1a" >90</text>
<text x="606.35" y="606.90" font-size="13" text-anchor="middle" fill="#1a1a1a" >100</text>
<text x="99.07" y="494.20" font-size="13" text-anchor="middle" fill="#1a1a1a" >A</text>
<text x="127.05" y="432.20" font-size="13" text-anchor="middle" fill="#1a1a1a" >B</text>
<text x="151.00" y="402.90" font-size="13" text-anchor="middle" fill="#1a1a1a" >C</text>
<text x="193.80" y="403.00" font-size="13" text-anchor="middle" fill="#1a1a1a" >D</text>
<text x="284.60" y="411.40" font-size="13" text-anchor="middle" fill="#1a1a1a" >E</text>
<text x="409.80" y="410.40" font-size="13" text-anchor="middle" fill="#1a1a1a" >F</text>
<text x="505.50" y="422.70" font-size="13" text-anchor="middle" fill="#1a1a1a" >G</text>
<text x="556.90" y="404.50" font-size="13" text-anchor="middle" fill="#1a1a1a" >H</text>
<text x="579.05" y="449.80" font-size="13" text-anchor="middle" fill="#1a1a1a" >I</text>
<text x="589.55" y="449.40" font-size="13" text-anchor="middle" fill="#1a1a1a" >J</text>
<text x="596.95" y="522.90" font-size="13" text-anchor="middle" fill="#1a1a1a" >K</text>
<text x="600.60" y="490.60" font-size="13" text-anchor="middle" fill="#1a1a1a" >L</text>
<text x="197.52" y="298.80" font-size="13" fill="#1a1a1a" textLength="30.88" lengthAdjust="spacingAndGlyphs" >0.081</text>
<text x="233.48" y="298.60" font-size="10.5" fill="#1a1a1a" textLength="7.34" lengthAdjust="spacingAndGlyphs" >±</text>
<text x="243.60" y="298.80" font-size="13" fill="#1a1a1a" textLength="240.28" lengthAdjust="spacingAndGlyphs" >0.005 Ma (MSWD = 1.47, p = 0.14, n = 11)</text>
<text x="251.23" y="581.80" font-size="13" fill="#1a1a1a" textLength="122.63" lengthAdjust="spacingAndGlyphs" >Integrated Age = 0.13</text>
<text x="377.30" y="581.60" font-size="10.5" fill="#1a1a1a" textLength="6.89" lengthAdjust="spacingAndGlyphs" >±</text>
<text x="386.80" y="581.80" font-size="13" fill="#1a1a1a" textLength="46.10" lengthAdjust="spacingAndGlyphs" >0.02 Ma</text>
<text x="239.25" y="640.10" font-size="17.2" fill="#1a1a1a" textLength="103.25" lengthAdjust="spacingAndGlyphs" >Cumulative %</text>
<text x="342.66" y="631.70" font-size="8.4" fill="#1a1a1a" textLength="9.86" lengthAdjust="spacingAndGlyphs" >39</text>
<text x="353.37" y="640.10" font-size="17.2" fill="#1a1a1a" textLength="92.11" lengthAdjust="spacingAndGlyphs" >Ar Released</text>
<g transform="translate(14.8,0) rotate(-90)"><text x="-111.28" y="0.00" font-size="17.5" fill="#1a1a1a" textLength="38.47" lengthAdjust="spacingAndGlyphs" >Ca/K</text></g>
<g transform="translate(14.7,0) rotate(-90)"><text x="-474.43" y="0.00" font-size="17.2" fill="#1a1a1a" textLength="142.28" lengthAdjust="spacingAndGlyphs" >Apparent Age (Ma)</text></g>
<g transform="translate(668.4,0) rotate(90)"><text x="150.39" y="0.00" font-size="17.5" fill="#1a1a1a" textLength="15.22" lengthAdjust="spacingAndGlyphs" >%</text><text x="169.48" y="-8.30" font-size="9.2" fill="#1a1a1a" textLength="10.48" lengthAdjust="spacingAndGlyphs" >40</text><text x="179.57" y="0.00" font-size="17" fill="#1a1a1a" textLength="22.38" lengthAdjust="spacingAndGlyphs" >Ar*</text></g>
<g class="title"><text x="146.35" y="18.60" font-size="23.5" fill="#111" textLength="85.07" lengthAdjust="spacingAndGlyphs" >Sample:</text><text x="235.73" y="18.60" font-size="23.5" fill="#111" textLength="124.70" lengthAdjust="spacingAndGlyphs" >20120809-6</text><text x="367.76" y="18.60" font-size="23.5" fill="#111" textLength="47.92" lengthAdjust="spacingAndGlyphs" >from</text><text x="421.70" y="18.60" font-size="23.5" fill="#111" textLength="143.24" lengthAdjust="spacingAndGlyphs" >Chihsingshan</text></g>
</svg>
</body></html>
